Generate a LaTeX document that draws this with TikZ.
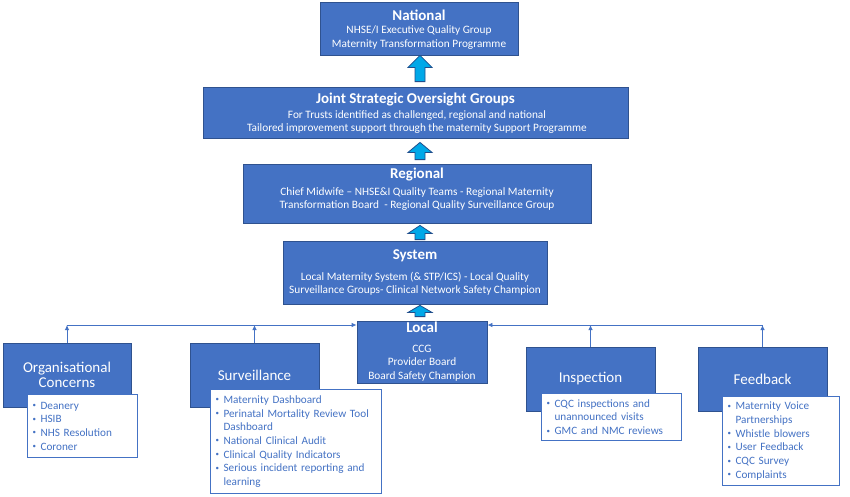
\documentclass[tikz,border=0pt]{standalone}
\usepackage{fontspec}
\setmainfont{Carlito}
\usetikzlibrary{arrows.meta,calc}
\definecolor{boxblue}{RGB}{68,114,196}
\definecolor{boxedge}{RGB}{47,82,143}
\definecolor{arrfill}{RGB}{0,168,232}
\definecolor{arredge}{RGB}{31,78,140}
\definecolor{listblue}{RGB}{68,114,196}
\newcommand\itm[1]{\makebox[8pt][l]{\raisebox{1.6pt}{\fontsize{7}{7}\selectfont •}}#1}
\newcommand\cnt[1]{\hspace*{8pt}#1}
% upper node, lower node, head length, tip gap, tail gap
\newcommand\myblockarrow[5]{%
  \draw[blockarr] let \p1=(#1.south), \p2=(#2.north) in
  (420pt,\y1-#4) -- (432pt,\y1-#4-#3) -- (425pt,\y1-#4-#3) -- (425pt,\y2+#5)
  -- (415pt,\y2+#5) -- (415pt,\y1-#4-#3) -- (408pt,\y1-#4-#3) -- cycle;}
\begin{document}
\begin{tikzpicture}[x=1pt,y=-1pt,
  bluebox/.style={draw=boxedge, line width=0.8pt, fill=boxblue, text=white, inner sep=0pt},
  ttl/.style={text=white, font=\fontsize{15}{18}\selectfont\bfseries, inner sep=0pt},
  bodyt/.style={text=white, align=center, font=\fontsize{11.3}{13.5}\selectfont, inner sep=0pt},
  lowttl/.style={bluebox, align=center, font=\fontsize{15}{15.5}\selectfont, minimum height=64pt},
  listbox/.style={draw=listblue, line width=1.2pt, fill=white, text=listblue, align=left,
    inner xsep=5pt, inner ysep=0pt, anchor=north west, font=\fontsize{11.2}{13.7}\selectfont},
  conn/.style={draw=boxblue, line width=0.8pt},
  tipend/.style={-{Latex[length=5pt,width=4.5pt]}},
  blockarr/.style={fill=arrfill, draw=arredge, line width=0.8pt, line join=miter}]
\fill[white] (0,0) rectangle (850,496);
\useasboundingbox (0,0) rectangle (850,496);

% National
\node[bluebox, minimum width=198pt, minimum height=53pt] (nat) at (419,28.5) {};
\node[ttl] (natT) at (419,15) {National};
\node[bodyt, font=\fontsize{11.3}{14}\selectfont] (natB) at (419,37.5) {NHSE/I Executive Quality Group\\Maternity Transformation Programme};

% Joint Strategic Oversight Groups
\node[bluebox, minimum width=425pt, minimum height=51pt] (jsog) at (415.5,112.5) {};
\node[ttl] (jsogT) at (415.5,100) {Joint Strategic Oversight Groups};
\node[bodyt] (jsogB) at (417,122) {For Trusts identified as challenged, regional and national\\Tailored improvement support through the maternity Support Programme};

% Regional
\node[bluebox, minimum width=348pt, minimum height=59pt] (reg) at (417,193.5) {};
\node[ttl] (regT) at (417,175) {Regional};
\node[bodyt, font=\fontsize{11.3}{12.3}\selectfont] (regB) at (417,199) {Chief Midwife -- NHSE\&I Quality Teams - Regional Maternity\\Transformation Board~ - Regional Quality Surveillance Group};

% System
\node[bluebox, minimum width=264pt, minimum height=63pt] (sys) at (415,272.5) {};
\node[ttl] (sysT) at (415,256) {System};
\node[bodyt, font=\fontsize{11.3}{13.3}\selectfont] (sysB) at (415,284) {Local Maternity System (\& STP/ICS) - Local Quality\\Surveillance Groups- Clinical Network Safety Champion};

% Local
\node[bluebox, minimum width=130pt, minimum height=62pt] (local) at (422,352) {};
\node[ttl] (localT) at (422,327.5) {Local};
\node[bodyt] (localB) at (422,363) {CCG\\Provider Board\\Board Safety Champion};

% block arrows
\myblockarrow{nat}{jsog}{12pt}{0pt}{5pt}
\myblockarrow{jsog}{reg}{10pt}{4pt}{4pt}
\myblockarrow{reg}{sys}{8pt}{2pt}{1pt}
\myblockarrow{sys}{local}{7pt}{1pt}{4pt}

% lower blue boxes
\node[lowttl, minimum width=128pt] (org) at (67,375) {Organisational\\Concerns};
\node[lowttl, minimum width=129pt] (surv) at (254.5,375) {Surveillance};
\node[lowttl, minimum width=129pt] (insp) at (590.5,379) {Inspection};
\node[lowttl, minimum width=129pt] (feed) at (762.5,379) {Feedback};

% lists
\node[listbox, text width=100pt, minimum height=63pt] (orgL) at (27,394)
  {\itm{Deanery}\\\itm{HSIB}\\\itm{NHS Resolution}\\\itm{Coroner}};
\node[listbox, text width=161pt, minimum height=104pt] (survL) at (210,389)
  {\itm{Maternity Dashboard}\\\itm{Perinatal Mortality Review Tool}\\\cnt{Dashboard}\\\itm{National Clinical Audit}\\\itm{Clinical Quality Indicators}\\\itm{Serious incident reporting and}\\\cnt{learning}};
\node[listbox, text width=130pt, minimum height=47pt] (inspL) at (541,393)
  {\itm{CQC inspections and}\\\cnt{unannounced visits}\\\itm{GMC and NMC reviews}};
\node[listbox, text width=107pt, minimum height=89pt] (feedL) at (722,396)
  {\itm{Maternity Voice}\\\cnt{Partnerships}\\\itm{Whistle blowers}\\\itm{User Feedback}\\\itm{CQC Survey}\\\itm{Complaints}};

% connectors
\coordinate (bus) at (0,325);
\draw[conn,tipend] (org.north) -- (org.north |- bus);
\draw[conn,tipend] (surv.north) -- (surv.north |- bus);
\draw[conn,tipend] (insp.north) -- (insp.north |- bus);
\draw[conn,tipend] (feed.north) -- (feed.north |- bus);
\draw[conn,tipend] (org.north |- bus) -- (local.west |- bus);
\draw[conn,tipend] (feed.north |- bus) -- (local.east |- bus);
\end{tikzpicture}
\end{document}
